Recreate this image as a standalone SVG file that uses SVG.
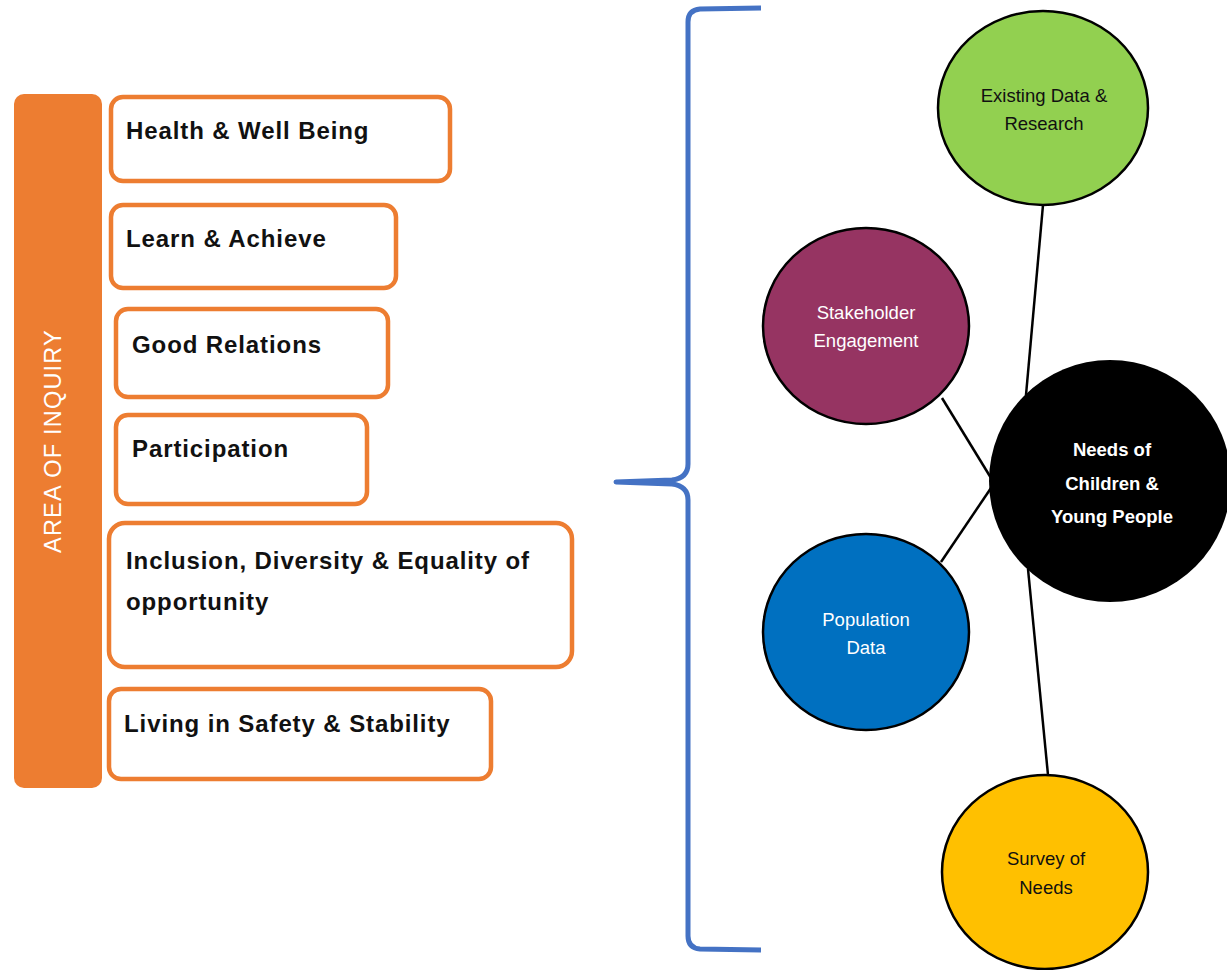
<svg xmlns="http://www.w3.org/2000/svg" width="1227" height="970" viewBox="0 0 1227 970">
<style>
.box{fill:#fff;stroke:#ED7D31;stroke-width:4.5}
.bt{font-family:"Liberation Sans",Arial,sans-serif;font-weight:bold;font-size:24px;letter-spacing:0.9px;fill:#111}
.ct{font-family:"Liberation Sans",Arial,sans-serif;font-size:18.5px;text-anchor:middle}
.circ{stroke:#000;stroke-width:2.5}
.conn{stroke:#000;stroke-width:2.5;fill:none}
</style>
<rect width="1227" height="970" fill="#fff"/>
<g id="area-of-inquiry">
<rect x="14" y="94" width="88" height="694" rx="10" fill="#ED7D31"/>
<text x="0" y="0" transform="translate(61,441) rotate(-90)" text-anchor="middle" font-family="Liberation Sans, Arial, sans-serif" font-size="23.5" letter-spacing="1.2" fill="#fff">AREA OF INQUIRY</text>
</g>
<g id="health">
<rect class="box" x="111" y="97" width="339" height="84" rx="12"/>
<text class="bt" x="126" y="139">Health &amp; Well Being</text>
</g>
<g id="learn">
<rect class="box" x="111" y="205" width="285" height="83" rx="12"/>
<text class="bt" x="126" y="247">Learn &amp; Achieve</text>
</g>
<g id="good-relations">
<rect class="box" x="116" y="309" width="272" height="88" rx="12"/>
<text class="bt" x="132" y="353">Good Relations</text>
</g>
<g id="participation">
<rect class="box" x="116" y="415" width="251" height="89" rx="12"/>
<text class="bt" x="132" y="457">Participation</text>
</g>
<g id="inclusion">
<rect class="box" x="109" y="523" width="463" height="144" rx="16"/>
<text class="bt" x="126" y="569">Inclusion, Diversity &amp; Equality of</text>
<text class="bt" x="126" y="610">opportunity</text>
</g>
<g id="living">
<rect class="box" x="109" y="689" width="382" height="90" rx="12"/>
<text class="bt" x="124" y="732">Living in Safety &amp; Stability</text>
</g>
<g id="bracket">
<path d="M761,8 L700,9 Q688,10 688,22 L688,464 Q688,478 672,480 L616,482 L672,484 Q688,486 688,500 L688,936 Q688,948 700,949 L761,950" fill="none" stroke="#4472C4" stroke-width="5" stroke-linejoin="round"/>
</g>
<g id="connectors">
<line class="conn" x1="1043" y1="205" x2="1026" y2="395"/>
<line class="conn" x1="942" y1="398" x2="991" y2="478"/>
<line class="conn" x1="941" y1="562" x2="991" y2="488"/>
<line class="conn" x1="1028" y1="569" x2="1048" y2="775"/>
</g>
<g id="existing-data">
<ellipse class="circ" cx="1043" cy="108" rx="105" ry="97" fill="#92D050"/>
<text class="ct" x="1044" y="102" fill="#111">Existing Data &amp;</text>
<text class="ct" x="1044" y="130" fill="#111">Research</text>
</g>
<g id="stakeholder">
<ellipse class="circ" cx="866" cy="326" rx="103" ry="98" fill="#963462"/>
<text class="ct" x="866" y="319" fill="#fff">Stakeholder</text>
<text class="ct" x="866" y="347" fill="#fff">Engagement</text>
</g>
<g id="needs">
<ellipse cx="1110" cy="481" rx="121" ry="121" fill="#000"/>
<text class="ct" x="1112" y="456" fill="#fff" font-weight="bold" font-size="21">Needs of</text>
<text class="ct" x="1112" y="490" fill="#fff" font-weight="bold" font-size="21">Children &amp;</text>
<text class="ct" x="1112" y="523" fill="#fff" font-weight="bold" font-size="21">Young People</text>
</g>
<g id="population">
<ellipse class="circ" cx="866" cy="632" rx="103" ry="98" fill="#0070C0"/>
<text class="ct" x="866" y="626" fill="#fff">Population</text>
<text class="ct" x="866" y="654" fill="#fff">Data</text>
</g>
<g id="survey">
<ellipse class="circ" cx="1045" cy="872" rx="103" ry="97" fill="#FFC000"/>
<text class="ct" x="1046" y="865" fill="#111">Survey of</text>
<text class="ct" x="1046" y="894" fill="#111">Needs</text>
</g>
</svg>
